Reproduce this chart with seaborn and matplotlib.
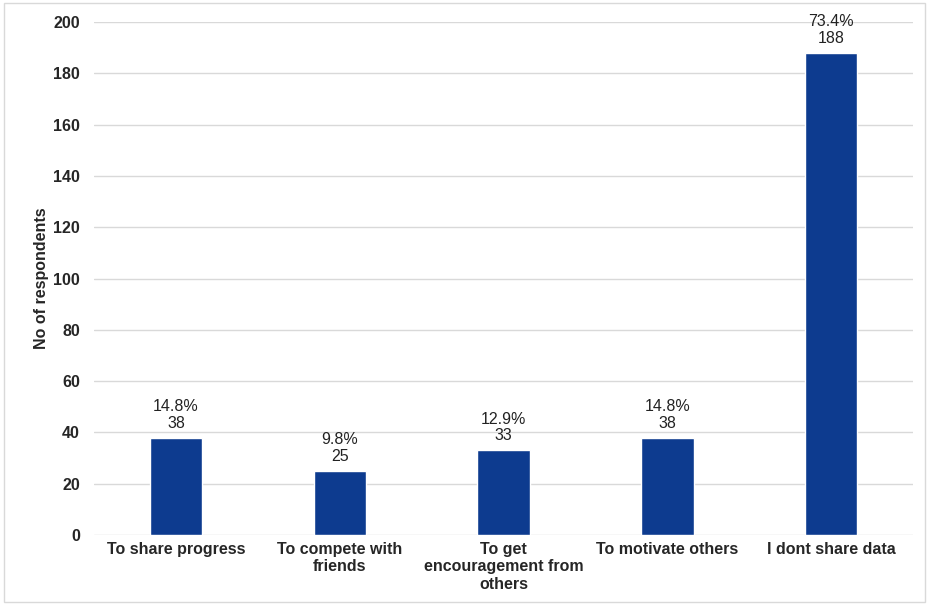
import matplotlib
matplotlib.use('Agg')
import matplotlib.pyplot as plt
from matplotlib.patches import Rectangle
import seaborn as sns
import pandas as pd

categories = ["To share progress", "To compete with\nfriends",
              "To get\nencouragement from\nothers", "To motivate others",
              "I dont share data"]
counts = [38, 25, 33, 38, 188]
percents = ["14.8%", "9.8%", "12.9%", "14.8%", "73.4%"]

sns.set_style("white")
plt.rcParams['font.family'] = ['Liberation Sans', 'DejaVu Sans']

df = pd.DataFrame({"reason": categories, "n": counts})

fig = plt.figure(figsize=(9.27, 6.04), dpi=100)
ax = fig.add_axes([0.1014, 0.1142, 0.8836, 0.8494])

sns.barplot(data=df, x="reason", y="n", color="#0d3b8f", width=0.32,
            saturation=1, ax=ax, zorder=3)

labels = [f"{p}\n{c}" for p, c in zip(percents, counts)]
ax.bar_label(ax.containers[0], labels=labels, padding=5, fontsize=11.5,
             color="#222222", linespacing=1.15)

ax.set_ylim(0, 200)
ax.set_yticks(range(0, 201, 20))
ax.yaxis.grid(True, color="#d9d9d9", linewidth=1, zorder=0)
ax.set_axisbelow(True)
for s in ax.spines.values():
    s.set_visible(False)
ax.tick_params(axis='x', length=0, labelsize=11.5, pad=5)
ax.tick_params(axis='y', length=0, labelsize=11.5, pad=10)
for t in ax.get_xticklabels() + ax.get_yticklabels():
    t.set_fontweight("bold")
    t.set_linespacing(1.2)
ax.set_xlabel("")
ax.set_ylabel("No of respondents", fontsize=11.5, fontweight="bold", labelpad=3)

fig.patches.append(Rectangle((0.004, 0.004), 0.994, 0.991, transform=fig.transFigure,
                             fill=False, edgecolor="#d9d9d9", linewidth=1))

fig.savefig("out.png", dpi=100)
